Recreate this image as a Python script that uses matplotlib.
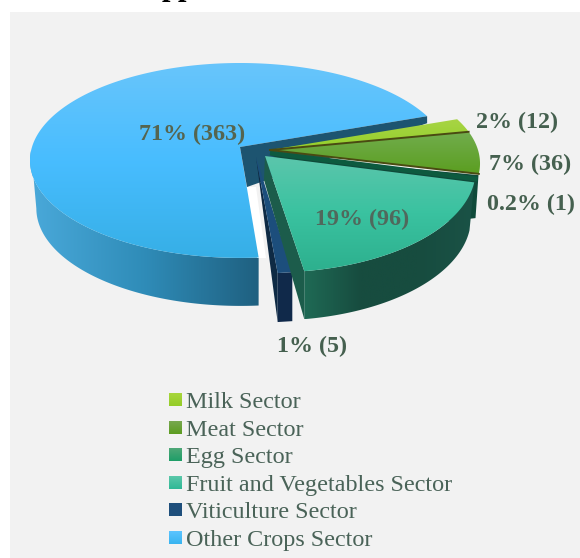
import numpy as np
import matplotlib
matplotlib.use("Agg")
import matplotlib.pyplot as plt
from matplotlib.colors import LinearSegmentedColormap
from matplotlib.patches import Polygon, Rectangle

sectors = ["Milk Sector", "Meat Sector", "Egg Sector", "Fruit and Vegetables Sector",
           "Viticulture Sector", "Other Crops Sector"]
counts = [12, 36, 1, 96, 5, 363]
value_labels = ["2% (12)", "7% (36)", "0.2% (1)", "19% (96)", "1% (5)", "71% (363)"]
label_pos = [(517, 122), (530, 164), (531, 204), (362, 219), (312, 346), (192, 134)]
label_col = ["#45604f", "#45604f", "#45604f", "#50685c", "#45604f", "#55654f"]
legend_cols = [("#a8d63c", "#94cc28"), ("#78a850", "#5c9c20"), ("#4fa878", "#1e9e68"),
               ("#5cc8aa", "#2fb896"), ("#1f4f7c", "#1f4f7c"), ("#5cc4ff", "#38b4f0")]
legend_y = [400, 428, 455, 483, 510, 538]

plt.rcParams["font.family"] = ["Liberation Serif", "DejaVu Serif"]
fig = plt.figure(figsize=(5.8, 5.58), dpi=100)
ax = fig.add_axes([0, 0, 1, 1])
ax.set_xlim(0, 580)
ax.set_ylim(558, 0)
ax.axis("off")
ax.add_patch(Rectangle((10, 12), 570, 546, fc="#f2f2f2", ec="none", zorder=0))

START = 70.3
fr = np.array(counts) / sum(counts)
edges = START + np.concatenate([[0], np.cumsum(fr)]) * 360
K, SX, SY = 0.138, 208.0, 95.6


def rim(theta, c, sy=1.0, sx=1.0):
    t = np.radians(theta)
    u, v = np.sin(t), np.cos(t)
    w = 1 + K * v
    return np.column_stack([c[0] + SX * sx * u / w, c[1] - SY * sy * v / w])


def arc(a, b, c, sy=1.0, sx=1.0, n=120):
    return rim(np.linspace(a, b, n), c, sy, sx)


def lower(p, x0, depth=48, sc=0.972):
    return np.column_stack([x0 + (p[:, 0] - x0) * sc, p[:, 1] + depth])


def grad(verts, cols, vertical=True, z=1):
    verts = np.asarray(verts)
    x0, y0 = verts.min(0)
    x1, y1 = verts.max(0)
    cm = LinearSegmentedColormap.from_list("g", cols)
    g = np.linspace(0, 1, 256)
    g = g[:, None] if vertical else g[None, :]
    im = ax.imshow(g, cmap=cm, extent=(x0, x1, y1, y0), origin="upper",
                   aspect="auto", zorder=z, interpolation="bilinear")
    p = Polygon(verts, closed=True, fc="none", ec="none", transform=ax.transData)
    ax.add_patch(p)
    im.set_clip_path(p)


def poly(verts, col, z=1):
    ax.add_patch(Polygon(verts, closed=True, fc=col, ec="none", zorder=z))


# Other crops
c = (240, 147)
a, b = edges[5], edges[6]
r = arc(a, 268, c)
r2 = arc(a, 262, c)
grad(np.vstack([r, lower(r2, 257)[::-1]]), ["#4aa9da", "#2f8cb8", "#1f6080"], vertical=False, z=1)
top = np.vstack([[c], arc(a, b, c, n=300)])
grad(top, ["#68c5fb", "#48bdff", "#36afe6"], z=2)
end = rim(np.array([b]), c)[0]
poly([c, end, end + [0, 7], (247, 187)], "#1d5470", z=3)
poly([(246, 187), (256, 187), (266, 258), (257, 258)], "#ffffff", z=1.5)

# Viticulture
c = (259, 157)
a, b = edges[4], edges[5]
left = rim(np.array([b]), c, 1.05)[0]
right = rim(np.array([a]), c, 1.05)[0]
poly([(256, 157), left, left + [0, 49]], "#0e2a44", z=4)
poly([left, right, right + [0, 49], left + [0, 49]], "#10294a", z=4)
poly([(256, 157), right, left], "#1c4e7c", z=4.2)

# Meat / egg walls behind fruit
c = (270, 150)
a, b = edges[1], edges[3]
p = rim(np.array([b]), c)[0]
poly([p, p + [-3, 43], (440, 222), (270, 155)], "#0f4a3a", z=4.5)

# Fruit and vegetables
c = (272, 156)
apex = (265, 156)
a, b = edges[3], edges[4]
r = arc(a, b, c, 1.05, 0.97)
end = r[-1]
grad(np.vstack([r, lower(r, end[0])[::-1]]), ["#1f6a55", "#174c3f", "#174c3f", "#1a5246"], vertical=False, z=5)
poly([apex, end, lower(end[None], end[0])[0], (264, 180)], "#1c5c4b", z=5)
grad(np.vstack([[apex], r]), ["#5cc6ac", "#3ac2a0", "#2db08e"], z=5.5)

# Egg, meat, milk
c = (270, 150)
egg = arc(edges[2], edges[3], (270, 153), n=10)
ax.plot([270, egg[-1, 0] - 1], [153, egg[-1, 1] + 1], color="#0d5a3f", lw=3.5, zorder=6, solid_capstyle="butt")
grad(np.vstack([[c], arc(edges[1], edges[2], c, n=50)]), ["#72ad4e", "#5b9e20"], z=6.2)
grad(np.vstack([[c], arc(edges[0], edges[1], c, n=30)]), ["#a8d445", "#94d02a"], z=6.2)
for e in edges[1:3]:
    q = rim(np.array([e]), c)[0]
    ax.plot([c[0], q[0]], [c[1], q[1]], color="#4a4a12", lw=1.4, zorder=6.5)

# Value labels
for t, (x, y), col in zip(value_labels, label_pos, label_col):
    ax.text(x, y, t, ha="center", va="center", fontsize=17.3, fontweight="bold", color=col, zorder=8)

# Legend
for name, y, cols in zip(sectors, legend_y, legend_cols):
    grad([(169, y - 7), (182, y - 7), (182, y + 6), (169, y + 6)], list(cols), z=8)
    ax.text(186, y, name, ha="left", va="center_baseline", fontsize=17.4, color="#4a6358", zorder=8)

# Clipped heading above the panel
fig.text(162 / 580, 1 + 4.5 / 558, "pp", ha="left", va="baseline", fontsize=22,
         fontweight="bold", color="black")

ax.set_xlim(0, 580)
ax.set_ylim(558, 0)
fig.savefig("out.png", dpi=100)
